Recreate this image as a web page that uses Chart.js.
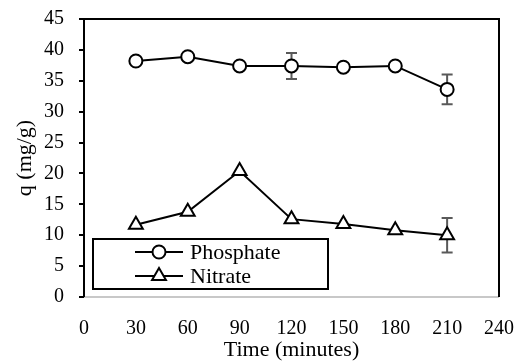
<!DOCTYPE html>
<html>
<head>
<meta charset="utf-8">
<script src="https://cdn.jsdelivr.net/npm/chart.js@4"></script>
<style>
  html, body { margin: 0; padding: 0; background: #fff; }
  #wrap { width: 520px; height: 363px; }
</style>
</head>
<body>
<div id="wrap"><canvas id="qChart" width="520" height="363"></canvas></div>
<script>
// Datos
const tiempos = [30, 60, 90, 120, 150, 180, 210];
const fosfato = [38.2, 38.9, 37.4, 37.4, 37.2, 37.4, 33.6];
const fosfatoErr = [0, 0, 0, 2.1, 0, 0, 2.4];
const nitrato = [11.7, 13.8, 20.4, 12.6, 11.8, 10.8, 10.0];
const nitratoErr = [0, 0, 0, 0, 0, 0, 2.8];
const xTicks = [0, 30, 60, 90, 120, 150, 180, 210, 240];
const yTicks = [0, 5, 10, 15, 20, 25, 30, 35, 40, 45];

const FONT = "'Liberation Serif', 'Times New Roman', serif";

// Barras de error (gris, con tapas)
const errorBars = {
    id: 'errorBars',
    beforeDatasetsDraw(chart) {
        const ctx = chart.ctx;
        const xs = chart.scales.x, ys = chart.scales.y;
        ctx.save();
        ctx.strokeStyle = '#595959';
        ctx.lineWidth = 2;
        chart.data.datasets.forEach(ds => {
            ds.data.forEach((p, i) => {
                const e = ds.errores[i];
                if (!e) return;
                const x = xs.getPixelForValue(p.x);
                const y1 = ys.getPixelForValue(p.y + e);
                const y2 = ys.getPixelForValue(p.y - e);
                ctx.beginPath();
                ctx.moveTo(x, y1); ctx.lineTo(x, y2);
                ctx.moveTo(x - 5.5, y1); ctx.lineTo(x + 5.5, y1);
                ctx.moveTo(x - 5.5, y2); ctx.lineTo(x + 5.5, y2);
                ctx.stroke();
            });
        });
        ctx.restore();
    }
};

// Marco del area del grafico
const marco = {
    id: 'marco',
    beforeDatasetsDraw(chart) {
        const {left, right, top, bottom} = chart.chartArea;
        const ctx = chart.ctx;
        ctx.save();
        ctx.strokeStyle = '#c8c8c8';
        ctx.lineWidth = 2;
        ctx.beginPath();
        ctx.moveTo(left, bottom); ctx.lineTo(right, bottom);
        ctx.stroke();
        ctx.strokeStyle = '#000';
        ctx.beginPath();
        ctx.moveTo(left, bottom); ctx.lineTo(left, top);
        ctx.lineTo(right, top); ctx.lineTo(right, bottom);
        ctx.stroke();
        ctx.restore();
    }
};

// Leyenda dentro del area
const leyenda = {
    id: 'leyenda',
    afterDatasetsDraw(chart) {
        const ctx = chart.ctx;
        const bx = 93, by = 239, bw = 235, bh = 50;
        ctx.save();
        ctx.fillStyle = '#fff';
        ctx.fillRect(bx, by, bw, bh);
        ctx.strokeStyle = '#000';
        ctx.lineWidth = 2;
        ctx.strokeRect(bx, by, bw, bh);
        chart.data.datasets.forEach((ds, i) => {
            const y = by + 13 + i * 24;
            ctx.strokeStyle = '#000';
            ctx.lineWidth = 2;
            ctx.beginPath();
            ctx.moveTo(135, y); ctx.lineTo(183, y);
            ctx.stroke();
            ctx.fillStyle = '#fff';
            Chart.helpers.drawPoint(ctx, {
                pointStyle: ds.pointStyle, radius: ds.pointRadius, borderWidth: 2
            }, 159, y);
            ctx.fillStyle = '#000';
            ctx.font = '22px ' + FONT;
            ctx.textBaseline = 'middle';
            ctx.fillText(ds.label, 190, y + 1);
        });
        ctx.restore();
    }
};

const ctxQ = document.getElementById('qChart').getContext('2d');
const qChart = new Chart(ctxQ, {
    type: 'scatter',
    data: {
        datasets: [{
            label: 'Phosphate',
            data: tiempos.map((t, i) => ({x: t, y: fosfato[i]})),
            errores: fosfatoErr,
            showLine: true,
            borderColor: '#000', borderWidth: 2,
            pointStyle: 'circle', pointRadius: 6.5,
            pointBackgroundColor: '#fff', pointBorderColor: '#000', pointBorderWidth: 2
        }, {
            label: 'Nitrate',
            data: tiempos.map((t, i) => ({x: t, y: nitrato[i]})),
            errores: nitratoErr,
            showLine: true,
            borderColor: '#000', borderWidth: 2,
            pointStyle: 'triangle', pointRadius: 8,
            pointBackgroundColor: '#fff', pointBorderColor: '#000', pointBorderWidth: 2
        }]
    },
    options: {
        responsive: false,
        animation: false,
        layout: { padding: { left: 0, right: 21, top: 19, bottom: 0 } },
        plugins: { legend: { display: false }, tooltip: { enabled: false } },
        scales: {
            x: {
                type: 'linear', min: 0, max: 240,
                afterFit(s) { s.height = 66; s.paddingLeft = 0; s.paddingRight = 0; },
                afterBuildTicks(s) { s.ticks = xTicks.map(v => ({value: v})); },
                border: { display: false },
                grid: { display: false, drawTicks: false },
                ticks: { color: '#000', font: { family: FONT, size: 20 }, padding: 20, maxRotation: 0 },
                title: { display: true, text: 'Time (minutes)', color: '#000',
                         font: { family: FONT, size: 22 }, padding: { top: 0, bottom: 0 } }
            },
            y: {
                min: 0, max: 45,
                afterFit(s) { s.width = 84; s.paddingTop = 0; s.paddingBottom = 0; },
                afterBuildTicks(s) { s.ticks = yTicks.map(v => ({value: v})); },
                border: { display: false },
                grid: { drawOnChartArea: false, drawTicks: true, tickLength: 5, color: '#000', lineWidth: 2 },
                ticks: { color: '#000', font: { family: FONT, size: 20 }, padding: 15 },
                title: { display: true, text: 'q (mg/g)', color: '#000',
                         font: { family: FONT, size: 22 }, padding: { top: 12, bottom: 0 } }
            }
        }
    },
    plugins: [marco, errorBars, leyenda]
});
</script>
</body>
</html>
